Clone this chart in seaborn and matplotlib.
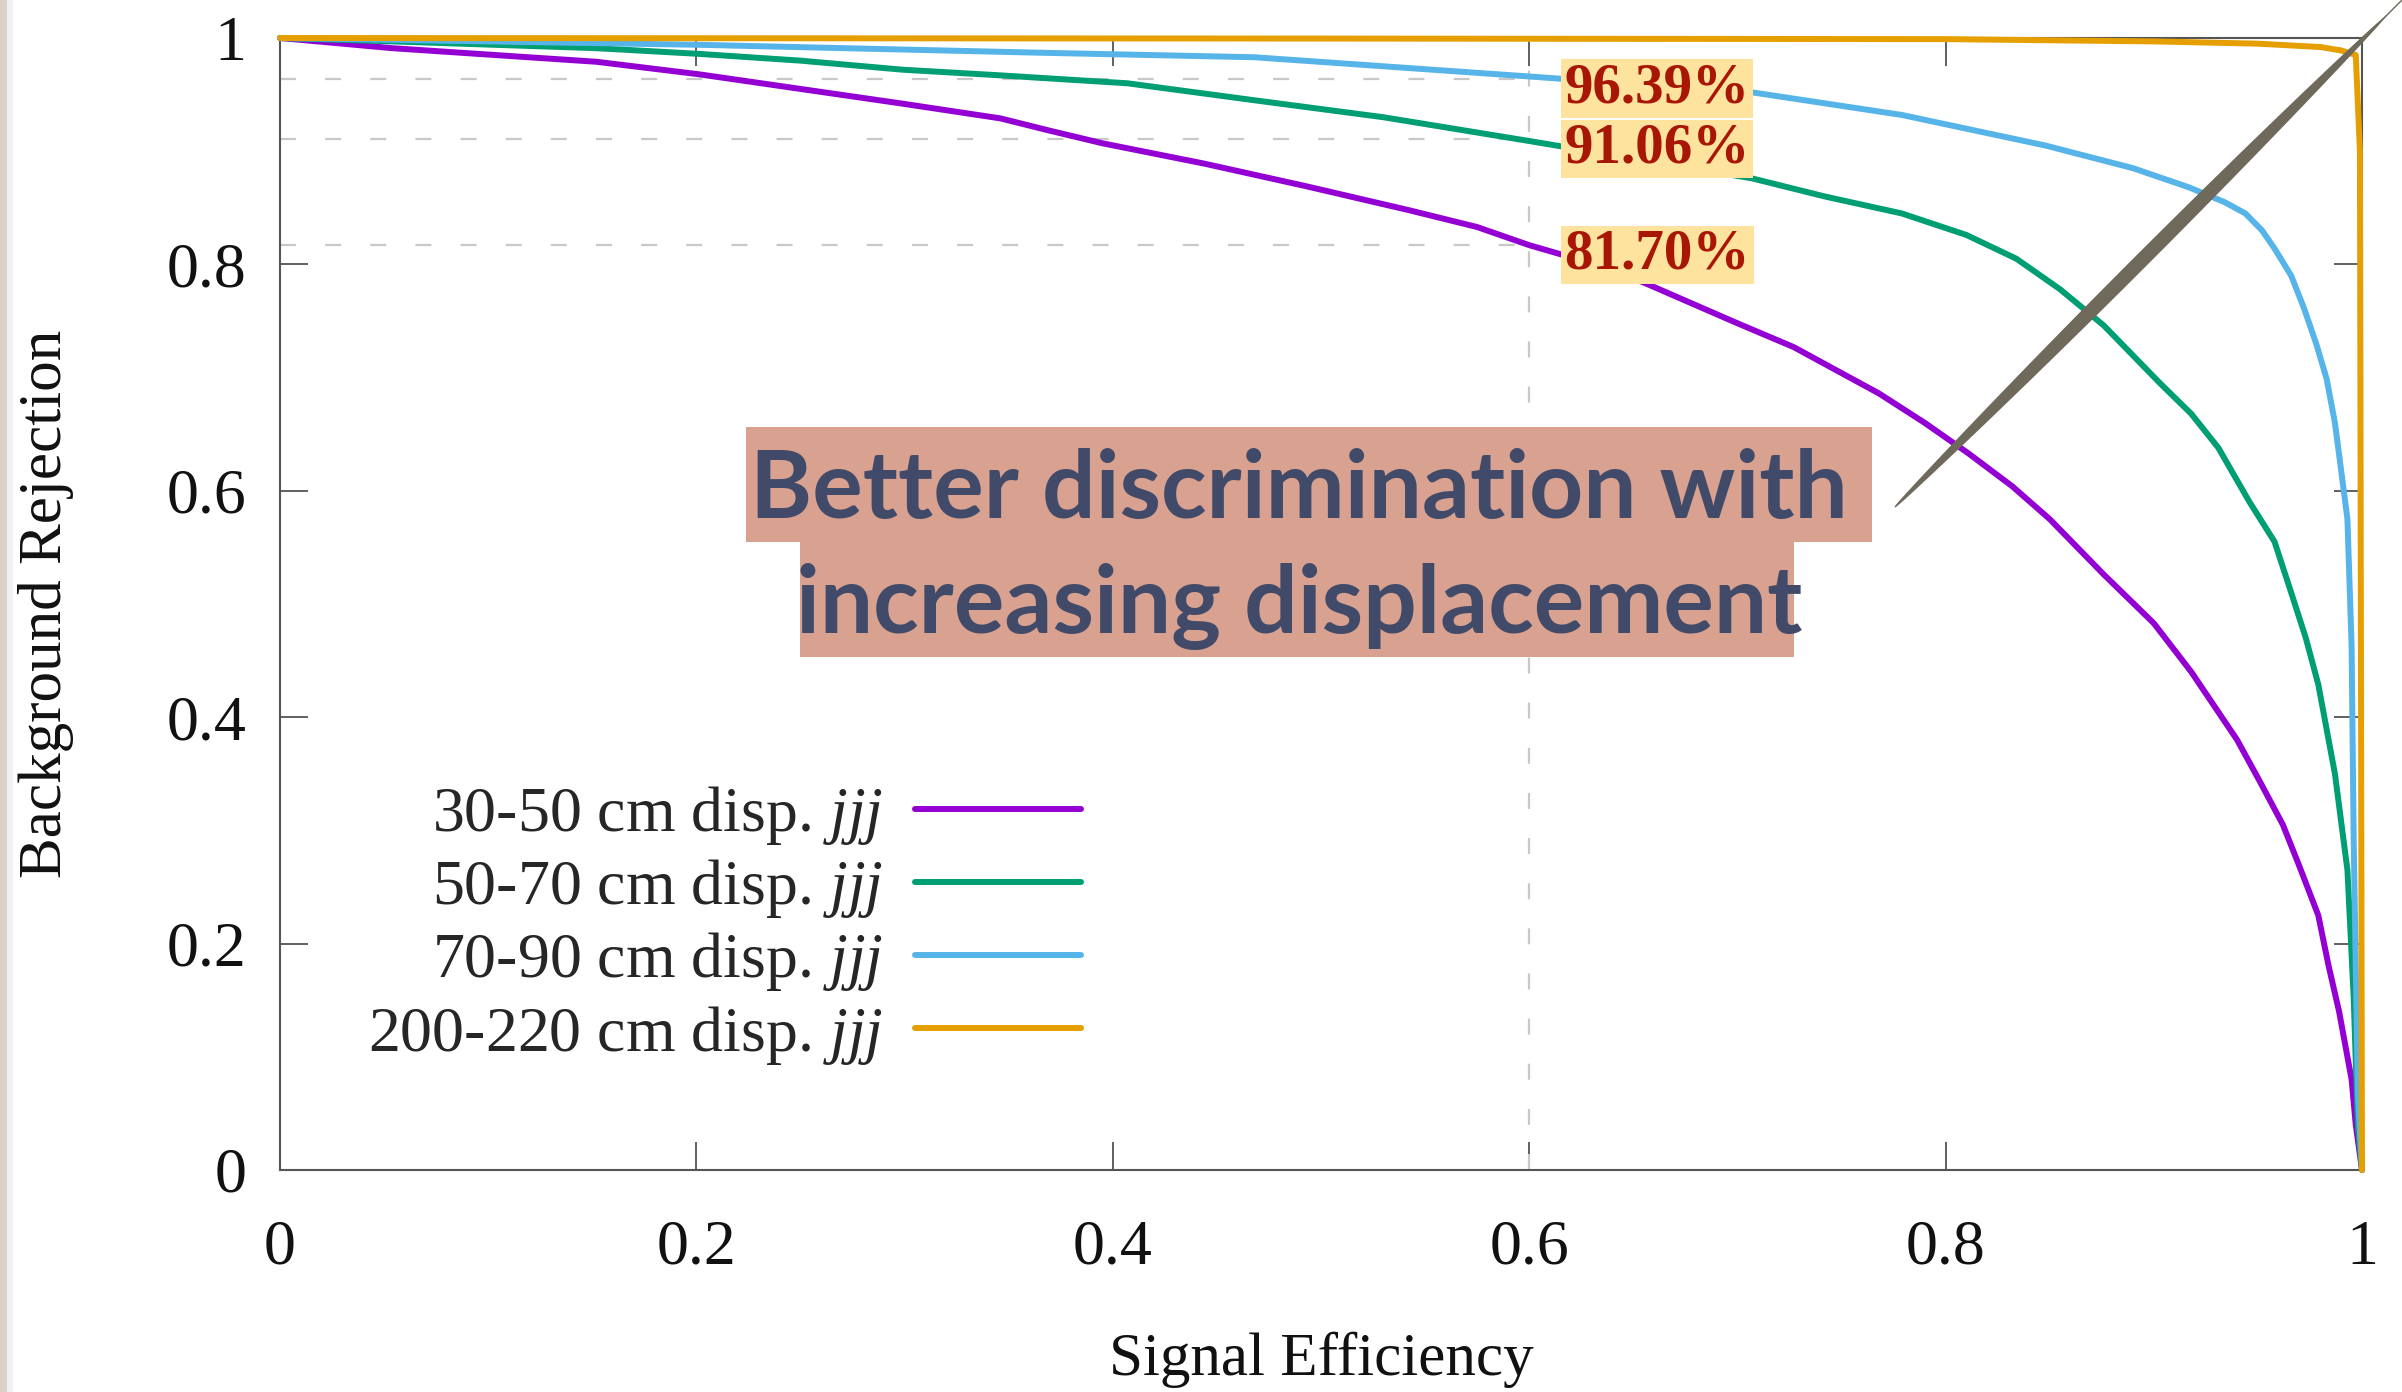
import numpy as np
import pandas as pd
import matplotlib
matplotlib.use("Agg")
import matplotlib.pyplot as plt
import seaborn as sns
from matplotlib.patches import Polygon, Rectangle
from matplotlib.lines import Line2D

# ---- data ----
labels = ["30-50 cm disp. $jjj$", "50-70 cm disp. $jjj$",
          "70-90 cm disp. $jjj$", "200-220 cm disp. $jjj$"]
colors = ["#9400d3", "#009e73", "#56b4e9", "#e69f00"]

eff_30_50 = [0, 0.054, 0.103, 0.152, 0.201, 0.250, 0.299, 0.346, 0.370, 0.395, 0.444, 0.493,
             0.542, 0.575, 0.600, 0.630, 0.655, 0.700, 0.727, 0.768, 0.790, 0.811, 0.832,
             0.850, 0.876, 0.900, 0.918, 0.940, 0.951, 0.962, 0.970, 0.979, 0.984, 0.989,
             0.995, 0.997, 1.0]
rej_30_50 = [1.0, 0.991, 0.985, 0.979, 0.968, 0.955, 0.942, 0.929, 0.918, 0.907, 0.889, 0.869,
             0.848, 0.833, 0.817, 0.801, 0.784, 0.748, 0.727, 0.686, 0.660, 0.633, 0.604,
             0.575, 0.526, 0.483, 0.440, 0.380, 0.343, 0.305, 0.268, 0.225, 0.180, 0.140,
             0.080, 0.040, 0.0]

eff_50_70 = [0, 0.054, 0.152, 0.201, 0.250, 0.299, 0.346, 0.407, 0.468, 0.530, 0.600,
             0.665, 0.707, 0.742, 0.779, 0.810, 0.834, 0.855, 0.876, 0.903, 0.918, 0.931,
             0.946, 0.958, 0.966, 0.973, 0.979, 0.987, 0.993, 0.996, 0.998, 1.0]
rej_50_70 = [1.0, 0.997, 0.991, 0.986, 0.980, 0.972, 0.967, 0.960, 0.945, 0.930, 0.909,
             0.889, 0.876, 0.860, 0.845, 0.826, 0.805, 0.778, 0.746, 0.695, 0.668, 0.638,
             0.590, 0.555, 0.510, 0.470, 0.429, 0.350, 0.265, 0.153, 0.040, 0.0]

eff_70_90 = [0, 0.201, 0.365, 0.468, 0.600, 0.707, 0.779, 0.848, 0.890, 0.917, 0.934,
             0.944, 0.952, 0.958, 0.966, 0.972, 0.978, 0.983, 0.987, 0.989, 0.993, 0.995,
             0.996, 0.998, 1.0]
rej_70_90 = [1.0, 0.994, 0.987, 0.983, 0.966, 0.952, 0.932, 0.905, 0.885, 0.868, 0.855,
             0.845, 0.830, 0.814, 0.790, 0.762, 0.730, 0.699, 0.660, 0.632, 0.575, 0.463,
             0.293, 0.068, 0.0]

eff_200_220 = [0, 0.5, 0.8, 0.9, 0.95, 0.98, 0.99, 0.997, 0.999, 1.0]
rej_200_220 = [1.0, 0.9995, 0.999, 0.997, 0.995, 0.992, 0.989, 0.985, 0.9, 0.0]

cut_eff = 0.6
pct_values = [96.39, 91.06, 81.70]
tick_vals = [0, 0.2, 0.4, 0.6, 0.8, 1]
tick_labels = ["0", "0.2", "0.4", "0.6", "0.8", "1"]
note_lines = ["Better discrimination with", "increasing displacement"]

frames = []
for lab, xs, ys in zip(labels, [eff_30_50, eff_50_70, eff_70_90, eff_200_220],
                       [rej_30_50, rej_50_70, rej_70_90, rej_200_220]):
    frames.append(pd.DataFrame({"eff": xs, "rej": ys, "sample": lab}))
df = pd.concat(frames, ignore_index=True)

# ---- style ----
sns.set_style("ticks")
plt.rcParams["font.family"] = ["Liberation Serif", "DejaVu Serif"]
plt.rcParams["mathtext.fontset"] = "custom"
plt.rcParams["mathtext.it"] = "Liberation Serif:italic"
plt.rcParams["mathtext.rm"] = "Liberation Serif"
plt.rcParams["lines.scale_dashes"] = False

W, H = 2402, 1392
fig = plt.figure(figsize=(W / 100, H / 100), dpi=100)
ax = fig.add_axes([280 / W, 1 - 1170 / H, (2362 - 280) / W, (1170 - 38) / H])

# dashed guides
grid_kw = dict(color="#c8c8c8", lw=1.6, dashes=(11.5, 21), zorder=1)
for v in pct_values:
    ax.plot([0, cut_eff], [v / 100, v / 100], **grid_kw)
ax.axvline(cut_eff, **grid_kw)

sns.lineplot(data=df, x="eff", y="rej", hue="sample", palette=dict(zip(labels, colors)),
             sort=False, estimator=None, lw=4.3, legend=False, ax=ax, clip_on=False, zorder=4)

ax.set_xlim(0, 1)
ax.set_ylim(0, 1)
ax.set_xticks(tick_vals, tick_labels)
ax.set_yticks(tick_vals, tick_labels)
ax.tick_params(direction="in", length=20, width=1.4, color="#606060", top=True, right=True,
               labelsize=46, labelcolor="#111111")
ax.tick_params(axis="x", pad=36)
ax.tick_params(axis="y", pad=24)
for s in ax.spines.values():
    s.set_color("#555555")
    s.set_linewidth(1.5)
    s.set_zorder(3)

ax.set_xlabel("Signal Efficiency", fontsize=44, color="#111111")
ax.set_ylabel("Background Rejection", fontsize=44, color="#111111")
ax.xaxis.label.set_va("center")
ax.yaxis.label.set_va("center")
ax.xaxis.set_label_coords(0.5, -0.168)
ax.yaxis.set_label_coords(-0.1124, 0.5)

# percentage tags
for v in pct_values:
    ax.text(0.617, v / 100 - 0.021, f"{v:.2f}%", fontsize=41, fontweight="bold",
            color="#a81606", ha="left", va="baseline", zorder=6,
            bbox=dict(boxstyle="square,pad=0.06", fc="#fde39e", ec="none"))

# legend, text on the left of the line sample
handles = [Line2D([], [], color=c, lw=4.3) for c in colors]
fig.legend(handles, labels, loc="upper right", bbox_to_anchor=(1081 / W, 1 - 784 / H),
           frameon=False, markerfirst=False, fontsize=46, handlelength=2.6,
           handletextpad=0.5, labelspacing=0.16, borderpad=0, borderaxespad=0)

# salmon call-out
fig.add_artist(Rectangle((746 / W, 1 - 542 / H), (1872 - 746) / W, (542 - 427) / H,
                         transform=fig.transFigure, fc="#d9a18f", ec="none", zorder=7))
fig.add_artist(Rectangle((800 / W, 1 - 657 / H), (1794 - 800) / W, (657 - 541) / H,
                         transform=fig.transFigure, fc="#d9a18f", ec="none", zorder=7))
for txt, base in zip(note_lines, [518, 633]):
    fig.text(1299 / W, 1 - base / H, txt, fontsize=68, fontweight="bold", family="Lato",
             color="#414b69", ha="center", va="baseline", zorder=8)

# hand-drawn stroke
A = np.array([1895.0, 507.0])
B = np.array([2408.0, -6.0])
t = np.linspace(0, 1, 80)
d = (B - A) / np.linalg.norm(B - A)
n = np.array([-d[1], d[0]])
w = 6.5 * np.sin(np.pi * np.clip(t * 1.05, 0, 1)) ** 0.7 + 0.7
pts_c = A + np.outer(t, B - A)
poly = np.vstack([pts_c + np.outer(w, n), (pts_c - np.outer(w, n))[::-1]])
poly_fig = np.column_stack([poly[:, 0] / W, 1 - poly[:, 1] / H])
fig.add_artist(Polygon(poly_fig, closed=True, transform=fig.transFigure,
                       fc="#6e695a", ec="none", zorder=9))

# slide edge on the left
fig.add_artist(Rectangle((0, 0), 7 / W, 1, transform=fig.transFigure, fc="#dbd2c5", ec="none"))
fig.add_artist(Rectangle((7 / W, 0), 6 / W, 1, transform=fig.transFigure, fc="#eef1f3", ec="none"))

fig.savefig("out.png", dpi=100)
